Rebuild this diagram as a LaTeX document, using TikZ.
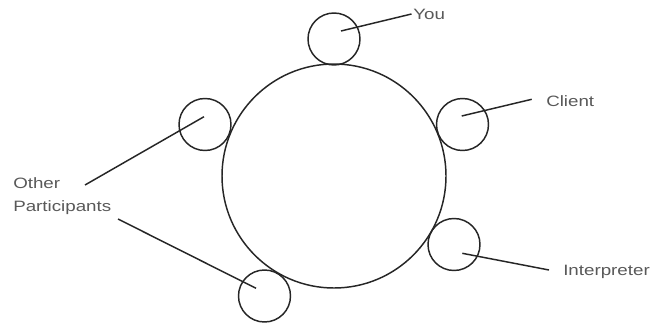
\documentclass[tikz,border=0pt]{standalone}
\usepackage{fontspec}
\setmainfont{Liberation Sans}
\newcommand{\wid}[1]{\scalebox{1.25}[1]{#1}}
\begin{document}
\begin{tikzpicture}[x=0.75pt,y=-0.75pt,
  seat/.style={circle,draw=black!85,line width=1.1pt,inner sep=0pt,minimum size=39pt},
  table/.style={circle,draw=black!85,line width=1.1pt,inner sep=0pt,minimum size=168pt},
  lbl/.style={anchor=west,inner sep=0pt,text=black!65,font=\fontsize{11.25pt}{17.25pt}\selectfont},
  lead/.style={draw=black!85,line width=1.1pt}]
\useasboundingbox (0,0) rectangle (655,328);
\fill[white] (0,0) rectangle (655,328);
\node[table] (tbl) at (334,176) {};
\node[seat] (you) at (334,39) {};
\node[seat] (client) at (462.5,124.5) {};
\node[seat] (left) at (205,124.5) {};
\node[seat] (interp) at (454,244.5) {};
\node[seat] (bottom) at (264.5,296) {};
\node[lbl] (tyou) at (413,14) {\wid{You}};
\node[lbl] (tclient) at (546,101) {\wid{Client}};
\node[lbl,align=left] (tother) at (13,196.5) {\wid{Other}\\\wid{Participants}};
\node[lbl] (tinterp) at (563,272) {\wid{Interpreter}};
\coordinate (cyou) at (341,31);
\coordinate (eyou) at (411.5,14);
\coordinate (cclient) at (461.7,116);
\coordinate (eclient) at (531.7,99.3);
\coordinate (cleft) at (204,116.7);
\coordinate (eleft) at (85,185);
\coordinate (cinterp) at (462.3,253.3);
\coordinate (einterp) at (549,270);
\coordinate (cbottom) at (256,288.3);
\coordinate (ebottom) at (118,219);
\draw[lead] (cyou) -- (eyou);
\draw[lead] (cclient) -- (eclient);
\draw[lead] (cleft) -- (eleft);
\draw[lead] (cinterp) -- (einterp);
\draw[lead] (cbottom) -- (ebottom);
\end{tikzpicture}
\end{document}
